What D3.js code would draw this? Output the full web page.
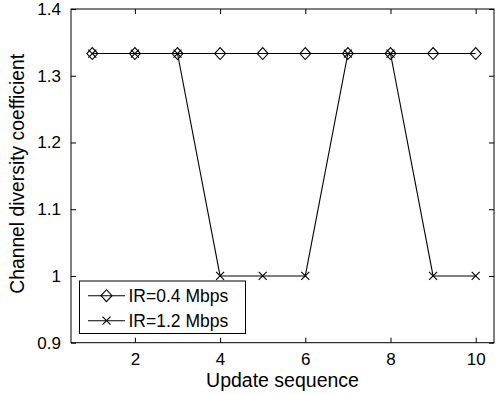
<!DOCTYPE html>
<html><head><meta charset="utf-8">
<script src="https://cdn.jsdelivr.net/npm/d3@7/dist/d3.min.js"></script>
<style>body{margin:0;background:#fff}svg{display:block}text{font-family:"Liberation Sans",Arial,sans-serif;fill:#000}</style>
</head><body>
<script>
const updates = [1,2,3,4,5,6,7,8,9,10];
const ir04 = [1.3333,1.3333,1.3333,1.3333,1.3333,1.3333,1.3333,1.3333,1.3333,1.3333];
const ir12 = [1.3333,1.3333,1.3333,1,1,1,1.3333,1.3333,1,1];
const xTicks = [2,4,6,8,10];
const yTicks = [0.9,1,1.1,1.2,1.3,1.4];
const seriesNames = ["IR=0.4 Mbps","IR=1.2 Mbps"];

const W=497,H=394, L=71,R=494,T=9,B=342.7;
const svg=d3.select("body").append("svg").attr("width",W).attr("height",H);
const x=d3.scaleLinear().domain([0.5,10.43]).range([L,R]);
const y=d3.scaleLinear().domain([0.9,1.4]).range([B,T]);
const tl=5;

const gx=svg.append("g").attr("transform",`translate(0,${B})`)
  .call(d3.axisBottom(x).tickValues(xTicks).tickSizeInner(-tl).tickSizeOuter(0).tickPadding(10).tickFormat(d3.format("d")));
const gxt=svg.append("g").attr("transform",`translate(0,${T})`)
  .call(d3.axisTop(x).tickValues(xTicks).tickSizeInner(-tl).tickSizeOuter(0).tickFormat(""));
const gy=svg.append("g").attr("transform",`translate(${L},0)`)
  .call(d3.axisLeft(y).tickValues(yTicks).tickSizeInner(-tl).tickSizeOuter(0).tickPadding(10).tickFormat(d=>d3.format("")(+d.toFixed(1))));
const gyr=svg.append("g").attr("transform",`translate(${R},0)`)
  .call(d3.axisRight(y).tickValues(yTicks).tickSizeInner(-tl).tickSizeOuter(0).tickFormat(""));
[gx,gxt,gy,gyr].forEach(g=>{g.select(".domain").remove();g.selectAll("line").attr("stroke","#000");
  g.selectAll("text").style("font-size","17px").attr("fill","#000");});
svg.append("rect").attr("x",L).attr("y",T).attr("width",R-L).attr("height",B-T)
  .attr("fill","none").attr("stroke","#000").attr("stroke-width",1);

const line=d3.line().x((d,i)=>x(updates[i])).y(d=>y(d));
const diamond=(s,cx,cy)=>s.append("path").attr("d",`M${cx-5.5},${cy}L${cx},${cy-6}L${cx+5.5},${cy}L${cx},${cy+6}Z`)
  .attr("fill","none").attr("stroke","#000").attr("stroke-width",1.1);
const cross=(s,cx,cy)=>s.append("path").attr("d",`M${cx-4},${cy-4}L${cx+4},${cy+4}M${cx-4},${cy+4}L${cx+4},${cy-4}`)
  .attr("stroke","#000").attr("stroke-width",1.1);

svg.append("path").datum(ir04).attr("d",line).attr("fill","none").attr("stroke","#000").attr("stroke-width",1.1);
ir04.forEach((v,i)=>diamond(svg,x(updates[i]),y(v)));
svg.append("path").datum(ir12).attr("d",line).attr("fill","none").attr("stroke","#000").attr("stroke-width",1.1);
ir12.forEach((v,i)=>cross(svg,x(updates[i]),y(v)));

const lg=svg.append("g");
lg.append("rect").attr("x",79.5).attr("y",281).attr("width",166).attr("height",52.5)
  .attr("fill","#fff").attr("stroke","#000");
const rows=[295.7,320.7];
seriesNames.forEach((n,i)=>{
  const cy=rows[i];
  lg.append("line").attr("x1",88).attr("x2",125).attr("y1",cy).attr("y2",cy).attr("stroke","#000").attr("stroke-width",1.1);
  if(i===0) diamond(lg,106.5,cy); else cross(lg,106.5,cy);
  lg.append("text").attr("x",128.5).attr("y",cy).attr("dy","0.36em").style("font-size","17.5px").text(n);
});

svg.append("text").attr("x",(L+R)/2).attr("y",387).attr("text-anchor","middle").style("font-size","19.5px").text("Update sequence");
svg.append("text").attr("transform",`translate(24,${(T+B)/2 - 2}) rotate(-90)`).attr("text-anchor","middle").style("font-size","19.3px").text("Channel diversity coefficient");
</script>
</body></html>
